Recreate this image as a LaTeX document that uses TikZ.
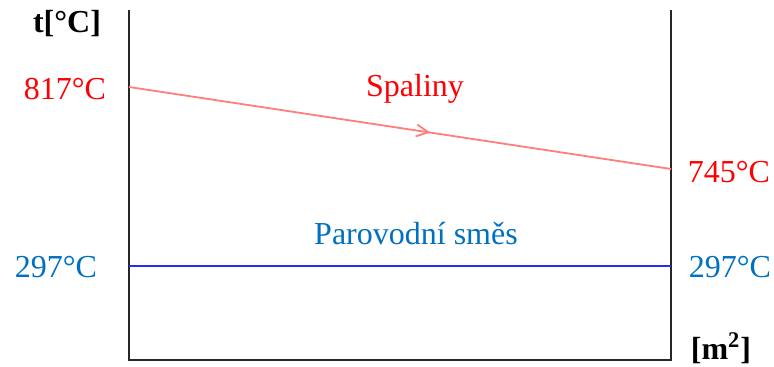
\documentclass[tikz,border=0pt]{standalone}
\usepackage{fontspec}
\setmainfont{Liberation Serif}
\usepackage{xcolor}
\usepackage{tikz}
\usetikzlibrary{positioning,arrows.meta,decorations.markings}

\definecolor{gasred}{RGB}{255,0,0}
\definecolor{gasline}{RGB}{255,125,125}
\definecolor{steamblue}{RGB}{0,112,192}
\definecolor{steamline}{RGB}{40,40,255}

\begin{document}
\begin{tikzpicture}[
  x=0.5pt, y=-0.5pt,
  axisline/.style={draw=black!85, line width=1pt},
  val/.style={inner sep=0pt, font=\fontsize{16}{19}\selectfont},
  unit/.style={inner sep=0pt, font=\fontsize{16}{19}\selectfont\bfseries},
  gasflow/.style={draw=gasline, line width=0.9pt, postaction=decorate,
                  decoration={markings, mark=at position 0.556 with {\arrow{Straight Barb[length=6pt,width=6pt]}}}},
  steamflow/.style={draw=steamline, line width=1pt},
]
  \useasboundingbox (0,0) rectangle (774,367);

  % --- Frame ---
  \coordinate (lt) at (129,10);
  \coordinate (lb) at (129,360);
  \coordinate (rb) at (671,360);
  \coordinate (rt) at (671,10);
  \draw[axisline] (lt) -- (lb) -- (rb) -- (rt);

  % --- Axis units ---
  \node[unit] (tunit) at (67,24) {t[°C]};
  \node[unit] (aunit) at (721,348) {[m\textsuperscript{2}]};

  % --- Flue gas (Spaliny) ---
  \coordinate (gin)  at (129,87);
  \coordinate (gout) at (671,169);
  \draw[gasflow] (gin) -- (gout);
  \node[val, text=gasred] (gasin)  at (65,89)   {817°C};
  \node[val, text=gasred] (gasout) at (729,172) {745°C};
  \node[val, text=gasred] (gaslab) at (415,89)  {Spaliny};

  % --- Steam-water mixture ---
  \coordinate (sin)  at (129,266);
  \coordinate (sout) at (671,266);
  \draw[steamflow] (sin) -- (sout);
  \node[val, text=steamblue] (steamin)  at (56,267)  {297°C};
  \node[val, text=steamblue] (steamout) at (730,267) {297°C};
  \node[val, text=steamblue] (steamlab) at (416,234) {Parovodní směs};

\end{tikzpicture}
\end{document}
